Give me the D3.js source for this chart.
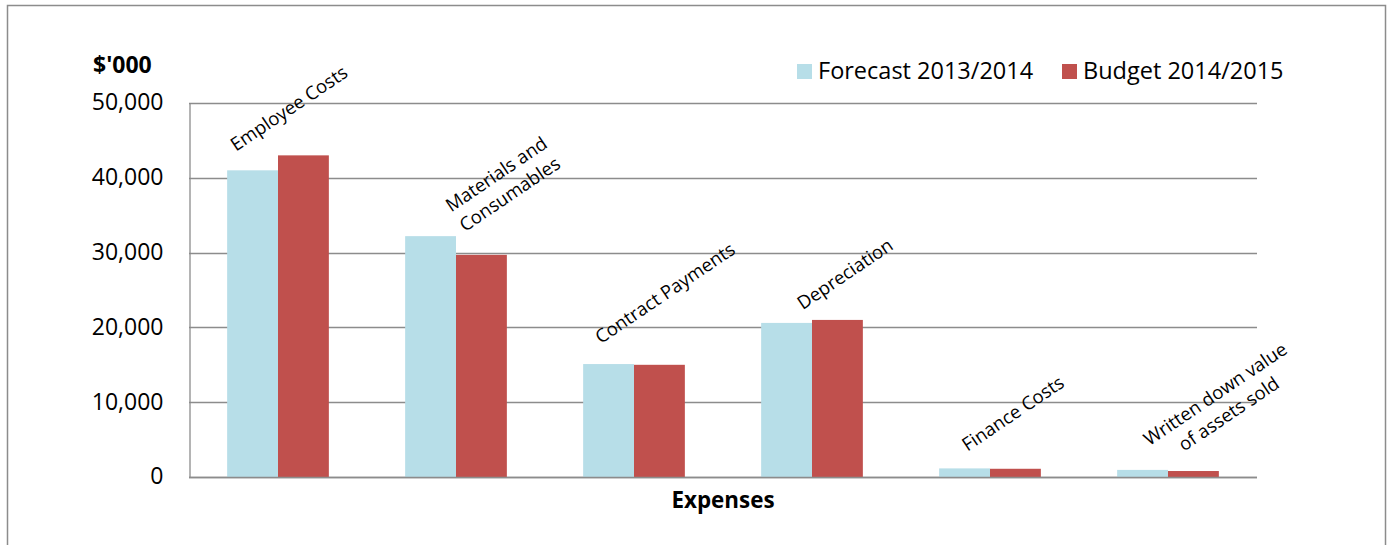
<!DOCTYPE html>
<html>
<head>
<meta charset="utf-8">
<script src="https://cdn.jsdelivr.net/npm/d3@7"></script>
<style>
  html, body { margin: 0; padding: 0; background: #fff; }
  svg { display: block; font-family: "Open Sans", sans-serif; }
</style>
</head>
<body>
<svg id="chart" width="1391" height="545"></svg>
<script>
// ---- data ----
const categories = ["Employee Costs", "Materials and\nConsumables", "Contract Payments", "Depreciation", "Finance Costs", "Written down value\nof assets sold"];
const seriesNames = ["Forecast 2013/2014", "Budget 2014/2015"];
const forecast = [41000, 32200, 15100, 20600, 1150, 950];
const budget = [43000, 29700, 15000, 21000, 1100, 800];
const yTicks = [0, 10000, 20000, 30000, 40000, 50000];

// ---- layout ----
const colors = ["#B7DEE8", "#C0504D"];
const plot = { left: 189, right: 1257, top: 103, bottom: 477 };
const labelLayout = [[11, -47], [47, -52], [31, -71], [33, -46], [23, -55], [54, -66]];
const labelAngle = -34;

const svg = d3.select("#chart");

// outer border
svg.append("rect").attr("x", 7.5).attr("y", 5.5).attr("width", 1378).attr("height", 560)
  .attr("fill", "none").attr("stroke", "#8c8c8c").attr("stroke-width", 1.5);

const x0 = d3.scaleBand().domain(d3.range(categories.length)).range([plot.left, plot.right]).paddingInner(0).paddingOuter(0);
const x1 = d3.scaleBand().domain(d3.range(seriesNames.length)).range([0, x0.bandwidth()]).paddingInner(0).paddingOuter(0.75);
const y = d3.scaleLinear().domain([0, 50000]).range([plot.bottom, plot.top]);

// gridlines
svg.append("g").selectAll("line").data(yTicks).join("line")
  .attr("x1", plot.left).attr("x2", plot.right)
  .attr("y1", d => Math.round(y(d)) + 0.5).attr("y2", d => Math.round(y(d)) + 0.5)
  .attr("stroke", "#8c8c8c").attr("stroke-width", 1.3);

// y axis
const yAxis = d3.axisLeft(y).tickValues(yTicks).tickSize(0).tickPadding(26).tickFormat(d3.format(","));
const gy = svg.append("g").attr("transform", `translate(${plot.left + 0.5},0)`).call(yAxis);
gy.select(".domain").attr("stroke", "#8c8c8c").attr("stroke-width", 1.3);
gy.selectAll("text").attr("font-family", "Open Sans").attr("font-size", 23).attr("fill", "#000").attr("dy", "0.3em");

// bars
const data = categories.map((c, i) => ({ i, vals: [forecast[i], budget[i]] }));
const groups = svg.append("g").selectAll("g").data(data).join("g")
  .attr("transform", d => `translate(${x0(d.i)},0)`);
groups.selectAll("rect").data(d => d.vals.map((v, s) => ({ v, s }))).join("rect")
  .attr("x", d => x1(d.s)).attr("width", x1.bandwidth())
  .attr("y", d => y(d.v)).attr("height", d => y(0) - y(d.v))
  .attr("fill", d => colors[d.s]);

// redraw baseline over bars
svg.append("line").attr("x1", plot.left).attr("x2", plot.right)
  .attr("y1", Math.round(y(0)) + 0.5).attr("y2", Math.round(y(0)) + 0.5)
  .attr("stroke", "#8c8c8c").attr("stroke-width", 1.3);

// category labels
const fs = 18.5, lh = 24;
categories.forEach((c, i) => {
  const cx = x0(i) + x0.bandwidth() / 2 + labelLayout[i][0];
  const cy = y(Math.max(forecast[i], budget[i])) + labelLayout[i][1];
  const lines = c.split("\n");
  const t = svg.append("text")
    .attr("transform", `translate(${cx},${cy}) rotate(${labelAngle})`)
    .attr("text-anchor", "middle").attr("font-size", fs).attr("fill", "#000");
  lines.forEach((l, k) => {
    t.append("tspan").attr("x", 0)
      .attr("y", (k - (lines.length - 1) / 2) * lh + fs * 0.35)
      .text(l);
  });
});

// y unit label
svg.append("text").attr("x", 93).attr("y", 73).attr("font-weight", "bold").attr("font-size", 23).text("$'000");

// x title
svg.append("text").attr("x", (plot.left + plot.right) / 2).attr("y", 507.5).attr("text-anchor", "middle")
  .attr("font-weight", "bold").attr("font-size", 22.4).text("Expenses");

// legend
const legendX = [797, 1062];
seriesNames.forEach((n, s) => {
  svg.append("rect").attr("x", legendX[s]).attr("y", 64).attr("width", 15).attr("height", 15).attr("fill", colors[s]);
  svg.append("text").attr("x", legendX[s] + 21).attr("y", 78.5).attr("font-size", 23.5).attr("fill", "#000").text(n);
});
</script>
</body>
</html>
